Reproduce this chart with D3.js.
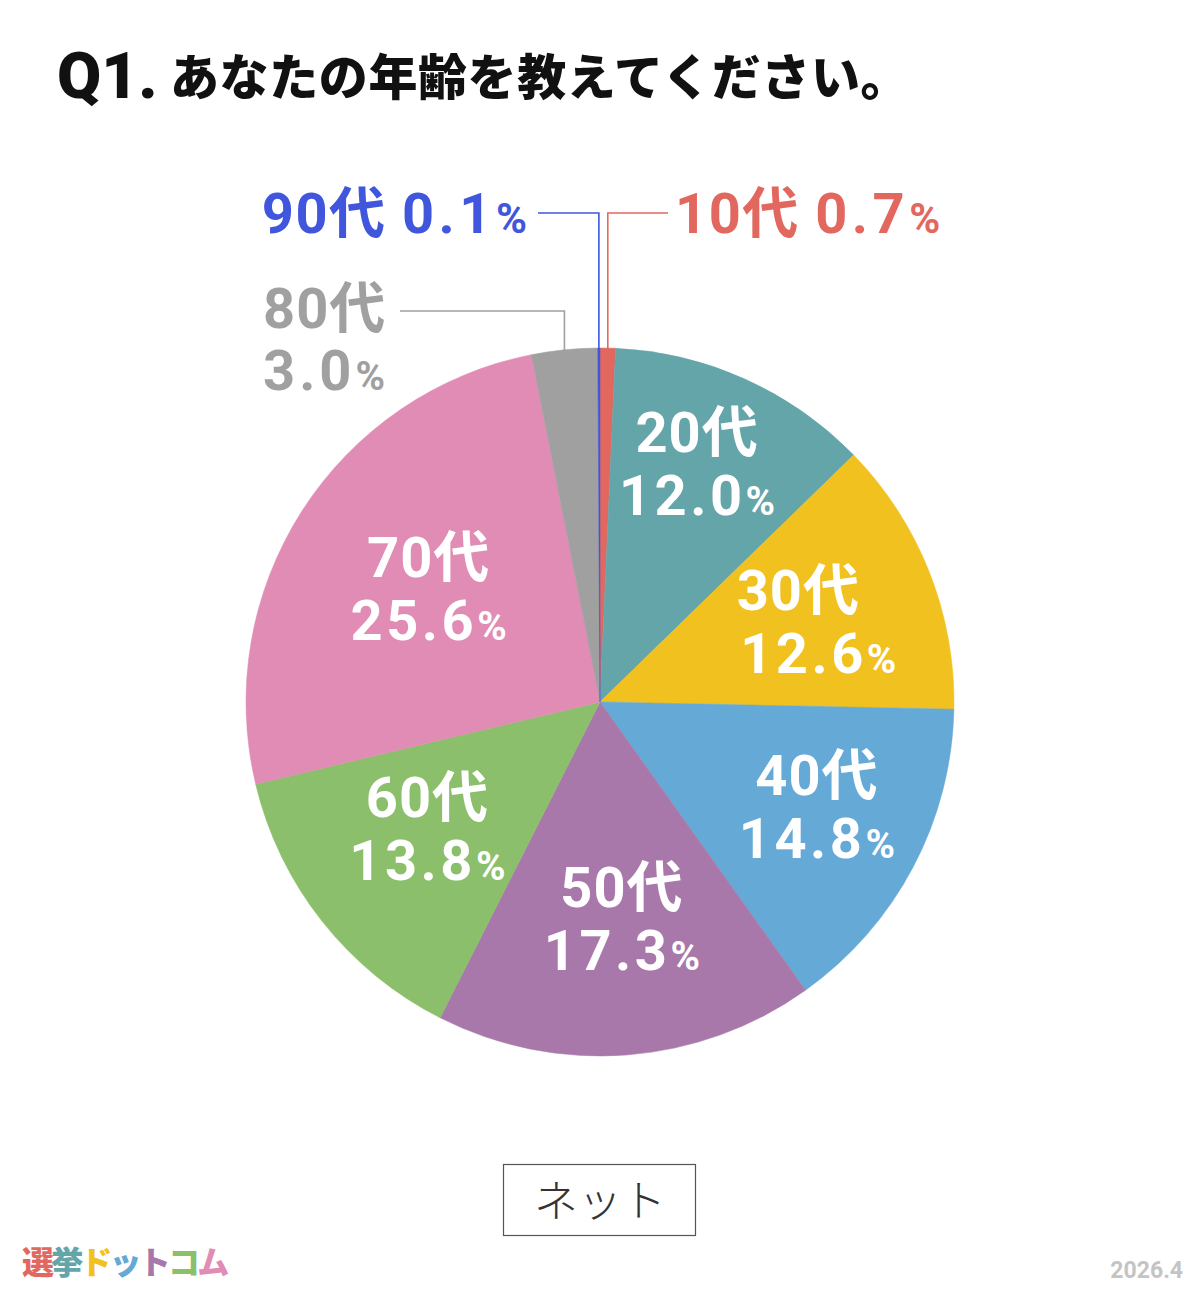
<!DOCTYPE html>
<html><head><meta charset="utf-8">
<script src="https://cdn.jsdelivr.net/npm/d3@7"></script>
<style>
html,body{margin:0;padding:0;background:#fff;}
svg{display:block;}
</style></head>
<body>
<svg id="chart" width="1200" height="1300"></svg>
<script>
// ---- data ----
const categories = ["10代","20代","30代","40代","50代","60代","70代","80代","90代"];
const values     = [0.7, 12.0, 12.6, 14.8, 17.3, 13.8, 25.6, 3.0, 0.1];
const valueLabels = ["0.7","12.0","12.6","14.8","17.3","13.8","25.6","3.0","0.1"];
const title = ["Q1.", "あなたの年齢を教えてください。"];
const sourceLabel = "ネット";
const logoChars = ["選","挙","ド","ッ","ト","コ","ム"];
const dateLabel = "2026.4";

// ---- styles / layout ----
const colors = ["#e2685f","#64a5aa","#f1c120","#65a9d7","#a978aa","#8bbf6b","#e08cb4","#a0a0a0","#3f56dd"];
const outerTextColors = {0:"#e2685f", 7:"#a0a0a0", 8:"#3f56dd"};
const logoColors = ["#e2685f","#64a5aa","#f1c120","#65a9d7","#a978aa","#8bbf6b","#e08cb4"];
const cx = 600, cy = 702, R = 354;
const labelR = 225;
const labelNudge = {1:[5,-39],2:[-1,-3],3:[18,-6],4:[5,-13],5:[4,-18],6:[18,3]};
const lineShift = {2:[-10,10]};
const numFont = "Roboto, 'Noto Sans CJK JP', sans-serif";
const jpFont = "'Noto Sans CJK JP', sans-serif";

const svg = d3.select("#chart");

// title
const t = svg.append("g");
t.append("text").attr("x",57).attr("y",98)
  .attr("font-family",numFont).attr("font-weight",900).attr("font-size",64)
  .attr("fill","#111").text(title[0]);
t.append("text").attr("x",170).attr("y",95)
  .attr("font-family",jpFont).attr("font-weight",900).attr("font-size",49)
  .attr("letter-spacing",0.6).attr("fill","#111").text(title[1]);

// pie
const pie = d3.pie().sort(null).value(d=>d).startAngle(0).endAngle(2*Math.PI);
const arcs = pie(values);
const arc = d3.arc().innerRadius(0).outerRadius(R);
const g = svg.append("g").attr("transform",`translate(${cx},${cy})`);
g.selectAll("path.slice").data(arcs).enter().append("path")
  .attr("class","slice").attr("d",arc)
  .attr("fill",(d,i)=>colors[i]).attr("stroke",(d,i)=>colors[i]).attr("stroke-width",0.5);

// inner labels
const labelArc = d3.arc().innerRadius(labelR).outerRadius(labelR);
arcs.forEach((d,i)=>{
  if(!(i in labelNudge)) return;
  const c = labelArc.centroid(d);
  const x = c[0] + labelNudge[i][0];
  const y = c[1] + labelNudge[i][1];
  const sh = lineShift[i] || [0,0];
  const tx = g.append("text").attr("text-anchor","middle")
    .attr("font-family",numFont).attr("font-weight",700).attr("fill","#fff");
  tx.append("tspan").attr("x",x+sh[0]).attr("y",y-6).attr("font-size",56)
    .attr("letter-spacing",1).text(categories[i]);
  const l2 = g.append("text").attr("text-anchor","middle")
    .attr("font-family",numFont).attr("font-weight",700).attr("fill","#fff")
    .attr("x",x+sh[1]).attr("y",y+57);
  l2.append("tspan").attr("font-size",56).attr("letter-spacing",3.5).text(valueLabels[i]);
  l2.append("tspan").attr("font-size",40).text("%");
});

// outer labels with leader lines
const outerCfg = {
  0:{elbowY:-489, endX:668, textX:675, textY:-469, anchor:"start", oneLine:true},
  8:{elbowY:-489, endX:538, textX:527, textY:-469, anchor:"end", oneLine:true},
  7:{elbowY:-391, endX:400, textX:263, textY:-374, anchor:"start", oneLine:false}
};
Object.keys(outerCfg).forEach(k=>{
  const i = +k, cfg = outerCfg[k], d = arcs[i];
  const mid = (d.startAngle + d.endAngle)/2;
  const px = R*Math.sin(mid), py = -R*Math.cos(mid);
  const col = outerTextColors[i];
  g.append("path")
    .attr("d",`M${px},${py+2}L${px},${cfg.elbowY}L${cfg.endX-cx},${cfg.elbowY}`)
    .attr("fill","none").attr("stroke",col).attr("stroke-width",1.6);
  const txt = g.append("text").attr("text-anchor",cfg.anchor)
    .attr("font-family",numFont).attr("font-weight",700).attr("fill",col);
  if(cfg.oneLine){
    txt.attr("x",cfg.textX-cx).attr("y",cfg.textY);
    txt.append("tspan").attr("font-size",56).attr("letter-spacing",1.5).text(categories[i]+" ");
    txt.append("tspan").attr("font-size",56).attr("letter-spacing",4.5).text(valueLabels[i]);
    txt.append("tspan").attr("font-size",42).text("%");
  } else {
    txt.append("tspan").attr("x",cfg.textX-cx).attr("y",cfg.textY).attr("font-size",56)
      .attr("letter-spacing",1).text(categories[i]);
    const t2 = g.append("text").attr("text-anchor",cfg.anchor)
      .attr("font-family",numFont).attr("font-weight",700).attr("fill",col)
      .attr("x",cfg.textX-cx).attr("y",cfg.textY+62);
    t2.append("tspan").attr("font-size",56).attr("letter-spacing",4).text(valueLabels[i]);
    t2.append("tspan").attr("font-size",40).text("%");
  }
});

// source box
svg.append("rect").attr("x",503.5).attr("y",1164.5).attr("width",192).attr("height",71)
  .attr("fill","#fff").attr("stroke","#555").attr("stroke-width",1.2);
svg.append("text").attr("x",600).attr("y",1217).attr("text-anchor","middle")
  .attr("font-family",jpFont).attr("font-weight",300).attr("font-size",44)
  .attr("fill","#333").text(sourceLabel);

// logo
const logo = svg.append("text").attr("x",22).attr("y",1274)
  .attr("font-family",jpFont).attr("font-weight",900).attr("font-size",32).attr("letter-spacing",-2.8);
logoChars.forEach((ch,i)=>logo.append("tspan").attr("fill",logoColors[i]).text(ch));

// date
svg.append("text").attr("x",1183).attr("y",1278).attr("text-anchor","end")
  .attr("font-family",numFont).attr("font-weight",700).attr("font-size",23)
  .attr("fill","#c4c4c4").text(dateLabel);
</script>
</body></html>
